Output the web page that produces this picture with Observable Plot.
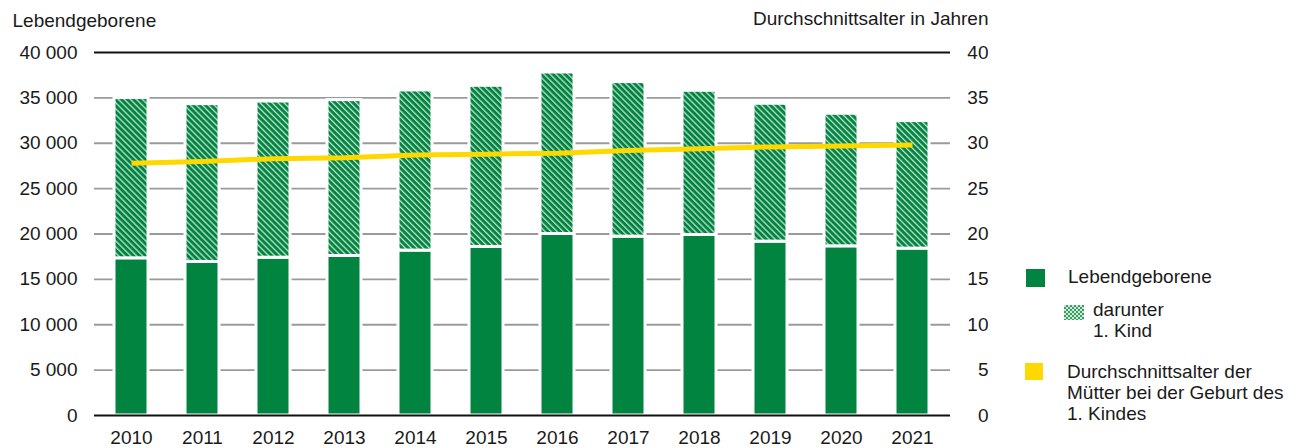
<!DOCTYPE html>
<html>
<head>
<meta charset="utf-8">
<script src="https://cdn.jsdelivr.net/npm/d3@7"></script>
<script src="https://cdn.jsdelivr.net/npm/@observablehq/plot@0.6"></script>
<style>
  html, body { margin: 0; padding: 0; background: #fff; }
  #wrap { position: relative; width: 1303px; height: 448px; font-family: "Liberation Sans", Arial, sans-serif; color: #1a1a1a; }
  #chart { position: absolute; left: 0; top: 0; }
  .lg { position: absolute; font-size: 19px; line-height: 21px; color: #1a1a1a; white-space: nowrap; }
  .sw { position: absolute; }
</style>
</head>
<body>
<div id="wrap">
  <div id="chart"></div>
  <div class="sw" style="left:1026px;top:269px;width:19px;height:18px;background:#00843f"></div>
  <div class="lg" style="left:1068px;top:266px">Lebendgeborene</div>
  <div class="sw" style="left:1064px;top:305px;width:20px;height:15px;background:repeating-conic-gradient(#3a9e63 0 25%, #cfe9d8 0 50%) 0 0/4px 4px"></div>
  <div class="lg" style="left:1093px;top:299px">darunter<br>1. Kind</div>
  <div class="sw" style="left:1025px;top:363px;width:18px;height:17px;background:#ffd800"></div>
  <div class="lg" style="left:1067px;top:361px">Durchschnittsalter der<br>Mütter bei der Geburt des<br>1. Kindes</div>
</div>
<script>
const years = ["2010","2011","2012","2013","2014","2015","2016","2017","2018","2019","2020","2021"];
const lebendgeborene = [34980, 34310, 34600, 34750, 35820, 36330, 37800, 36740, 35780, 34350, 33250, 32440];
const darunterErstesKind = [17660, 17390, 17210, 17170, 17650, 17760, 17800, 17030, 15890, 15190, 14610, 14050];
const alterMutter = [27.8, 28.0, 28.3, 28.4, 28.7, 28.8, 28.9, 29.2, 29.4, 29.6, 29.7, 29.8];
const yTicks = [0, 5000, 10000, 15000, 20000, 25000, 30000, 35000, 40000];
const leftLabels = ["0", "5 000", "10 000", "15 000", "20 000", "25 000", "30 000", "35 000", "40 000"];
const rightLabels = ["0", "5", "10", "15", "20", "25", "30", "35", "40"];

const data = years.map((year, i) => ({
  year,
  total: lebendgeborene[i],
  base: lebendgeborene[i] - darunterErstesKind[i],
  age: alterMutter[i]
}));

const green = "#00843f";
const font = "Liberation Sans, Arial, sans-serif";

const svg = Plot.plot({
  width: 1010,
  height: 448,
  marginTop: 52,
  marginBottom: 33,
  marginLeft: 94,
  marginRight: 60,
  style: { fontFamily: font, fontSize: "19px", color: "#1a1a1a", background: "#fff" },
  x: { type: "band", domain: years, paddingInner: 0.52, paddingOuter: 0.26, label: null },
  y: { domain: [0, 40000], label: null },
  marks: [
    Plot.ruleY(yTicks.slice(1, -1), { stroke: "#9a9a9a", strokeWidth: 1.8 }),
    Plot.barY(data, { x: "year", y1: 0, y2: "base", fill: green, stroke: "#fff", strokeWidth: 3 }),
    Plot.barY(data, { x: "year", y1: "base", y2: "total", fill: "url(#hatch)", stroke: "#fff", strokeWidth: 3 }),
    Plot.ruleY([0, 40000], { stroke: "#111", strokeWidth: 2 }),
    Plot.line(data, { x: "year", y: d => d.age * 1000, stroke: "#ffd800", strokeWidth: 5, strokeLinecap: "butt", strokeLinejoin: "round" }),
    Plot.axisX({ tickSize: 0, tickPadding: 15, fontSize: 19, label: null }),
    Plot.axisY({ anchor: "left", ticks: yTicks, tickFormat: (d) => leftLabels[yTicks.indexOf(d)], tickSize: 0, tickPadding: 17, fontSize: 19, label: null }),
    Plot.axisY({ anchor: "right", ticks: yTicks, tickFormat: (d) => rightLabels[yTicks.indexOf(d)], tickSize: 0, tickPadding: 38, textAnchor: "end", fontSize: 19, label: null }),
    Plot.text(["Lebendgeborene"], { frameAnchor: "top-left", dx: -82, dy: -26, textAnchor: "start", lineAnchor: "bottom", fontSize: 19 }),
    Plot.text(["Durchschnittsalter in Jahren"], { frameAnchor: "top-right", dx: 38, dy: -28, textAnchor: "end", lineAnchor: "bottom", fontSize: 19 })
  ]
});

const defs = d3.select(svg).insert("defs", ":first-child");
const pw = 4.25;
const pat = defs.append("pattern")
  .attr("id", "hatch")
  .attr("patternUnits", "userSpaceOnUse")
  .attr("width", pw)
  .attr("height", 10)
  .attr("patternTransform", "rotate(-45)");
pat.append("rect").attr("width", pw).attr("height", 10).attr("fill", green);
pat.append("rect").attr("x", 0).attr("width", 1.3).attr("height", 10).attr("fill", "#ffffff").attr("fill-opacity", 0.75);

document.getElementById("chart").appendChild(svg);
</script>
</body>
</html>
